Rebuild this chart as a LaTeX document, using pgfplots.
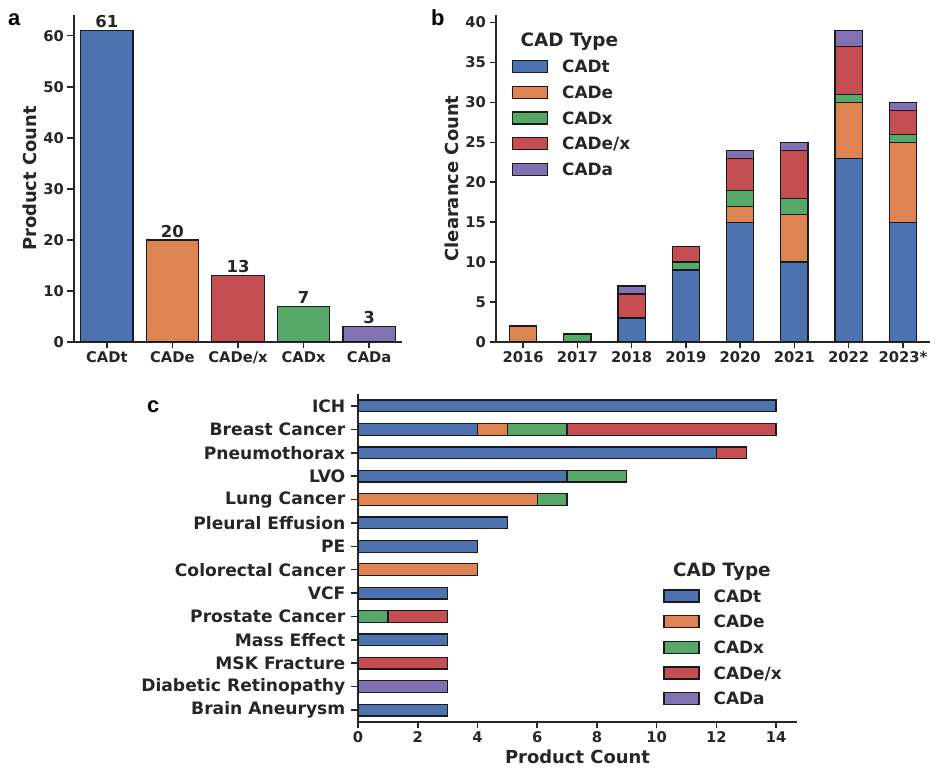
\documentclass[border=0pt]{standalone}
\usepackage{fontspec}
\setmainfont{DejaVu Sans}
\newfontfamily\arialfont{Liberation Sans}
\usepackage{pgfplots}
\pgfplotsset{compat=1.18}

\definecolor{cadt}{HTML}{4C72B0}
\definecolor{cade}{HTML}{DD8452}
\definecolor{cadx}{HTML}{55A868}
\definecolor{cadex}{HTML}{C44E52}
\definecolor{cada}{HTML}{8172B3}
\definecolor{txt}{HTML}{262626}
\definecolor{edge}{HTML}{1A1A1A}

\newcommand{\fs}[1]{\bfseries\fontsize{#1}{#1}\selectfont}

\pgfplotsset{
  sns/.style={
    scale only axis,
    axis x line*=bottom, axis y line*=left,
    axis line style={txt, line width=1.8bp, -},
    every tick/.style={txt, line width=1.6bp},
    tick align=outside,
    major tick length=6.5bp,
    minor tick num=0,
    tick label style={font=\fs{14.8}, text=txt},
    label style={font=\fs{18}, text=txt},
    /pgf/number format/assume math mode=true,
  },
  barst/.style={draw=edge, line width=1.3bp},
  snsleg/.style={
    legend style={draw=none, fill=none, inner sep=0pt, row sep=11bp,
      nodes={inner sep=0pt, text height=12bp, text depth=2bp, font=\fs{17}, text=txt},
      /tikz/every odd column/.append style={column sep=14bp}},
    legend cell align=left,
    every axis plot post/.append style={
      legend image code/.code={\draw[##1,line width=1.3bp] (0bp,-5bp) rectangle (35bp,7bp);}},
  },
}

\begin{document}
\begin{tikzpicture}
\useasboundingbox (0,0) rectangle (949bp,771bp);

% ---------------- panel a
\begin{axis}[sns, at={(74bp,429bp)}, anchor=south west,
  width=328bp, height=327bp,
  xmin=-0.5, xmax=4.5, ymin=0, ymax=64.05,
  xtick={0,1,2,3,4}, xticklabels={CADt,CADe,CADe/x,CADx,CADa},
  ytick={0,10,20,30,40,50,60},
  ylabel={Product Count},
  ybar, bar width=0.8,
  nodes near coords,
  nodes near coords style={font=\fs{16.5}, text=txt, inner sep=2bp},
]
\addplot[barst, fill=cadt, bar shift=0pt] coordinates {(0,61)};
\addplot[barst, fill=cade, bar shift=0pt] coordinates {(1,20)};
\addplot[barst, fill=cadex, bar shift=0pt] coordinates {(2,13)};
\addplot[barst, fill=cadx, bar shift=0pt] coordinates {(3,7)};
\addplot[barst, fill=cada, bar shift=0pt] coordinates {(4,3)};
\end{axis}

% ---------------- panel b
\begin{axis}[sns, at={(496bp,429bp)}, anchor=south west,
  width=434bp, height=327bp,
  xmin=-0.5, xmax=7.5, ymin=0, ymax=40.95,
  xtick={0,1,2,3,4,5,6,7}, xticklabels={2016,2017,2018,2019,2020,2021,2022,2023*},
  ytick={0,5,10,15,20,25,30,35,40},
  ylabel={Clearance Count},
  ybar stacked, bar width=0.5,
  snsleg,
  legend style={at={(rel axis cs:0.036,0.8627)}, anchor=north west},
]
\addplot[barst, fill=cadt] coordinates {(0,0) (1,0) (2,3) (3,9) (4,15) (5,10) (6,23) (7,15)};
\addplot[barst, fill=cade] coordinates {(0,2) (1,0) (2,0) (3,0) (4,2) (5,6) (6,7) (7,10)};
\addplot[barst, fill=cadx] coordinates {(0,0) (1,1) (2,0) (3,1) (4,2) (5,2) (6,1) (7,1)};
\addplot[barst, fill=cadex] coordinates {(0,0) (1,0) (2,3) (3,2) (4,4) (5,6) (6,6) (7,3)};
\addplot[barst, fill=cada] coordinates {(0,0) (1,0) (2,1) (3,0) (4,1) (5,1) (6,2) (7,1)};
\legend{CADt,CADe,CADx,CADe/x,CADa}
\node[anchor=base, font=\fs{18.5}, text=txt, inner sep=0pt] at (rel axis cs:0.169,0.905) {CAD Type};
\end{axis}

% ---------------- panel c
\begin{axis}[sns, at={(358bp,49.3bp)}, anchor=south west,
  width=439bp, height=327.4bp,
  xmin=0, xmax=14.7, ymin=-0.5, ymax=13.5, y dir=reverse,
  xtick={0,2,4,6,8,10,12,14},
  ytick={0,1,2,3,4,5,6,7,8,9,10,11,12,13},
  yticklabels={ICH,Breast Cancer,Pneumothorax,LVO,Lung Cancer,Pleural Effusion,PE,Colorectal Cancer,VCF,Prostate Cancer,Mass Effect,MSK Fracture,Diabetic Retinopathy,Brain Aneurysm},
  yticklabel style={font=\fs{17.2}, inner sep=6bp},
  xlabel={Product Count},
  xbar stacked, bar width=0.5,
  snsleg,
  legend style={at={(rel axis cs:0.695,0.4047)}, anchor=north west},
]
\addplot[barst, fill=cadt] coordinates {(14,0) (4,1) (12,2) (7,3) (0,4) (5,5) (4,6) (0,7) (3,8) (0,9) (3,10) (0,11) (0,12) (3,13)};
\addplot[barst, fill=cade] coordinates {(0,0) (1,1) (0,2) (0,3) (6,4) (0,5) (0,6) (4,7) (0,8) (0,9) (0,10) (0,11) (0,12) (0,13)};
\addplot[barst, fill=cadx] coordinates {(0,0) (2,1) (0,2) (2,3) (1,4) (0,5) (0,6) (0,7) (0,8) (1,9) (0,10) (0,11) (0,12) (0,13)};
\addplot[barst, fill=cadex] coordinates {(0,0) (7,1) (1,2) (0,3) (0,4) (0,5) (0,6) (0,7) (0,8) (2,9) (0,10) (3,11) (0,12) (0,13)};
\addplot[barst, fill=cada] coordinates {(0,0) (0,1) (0,2) (0,3) (0,4) (0,5) (0,6) (0,7) (0,8) (0,9) (0,10) (0,11) (3,12) (0,13)};
\legend{CADt,CADe,CADx,CADe/x,CADa}
\node[anchor=base, font=\fs{18.5}, text=txt, inner sep=0pt] at (rel axis cs:0.829,0.445) {CAD Type};
\end{axis}

% panel letters
\node[anchor=base west, inner sep=0pt, font=\arialfont\bfseries\fontsize{22}{22}\selectfont] at (8bp,745bp) {a};
\node[anchor=base west, inner sep=0pt, font=\arialfont\bfseries\fontsize{22}{22}\selectfont] at (431bp,745bp) {b};
\node[anchor=base west, inner sep=0pt, font=\arialfont\bfseries\fontsize{22}{22}\selectfont] at (147bp,358bp) {c};
\end{tikzpicture}
\end{document}
